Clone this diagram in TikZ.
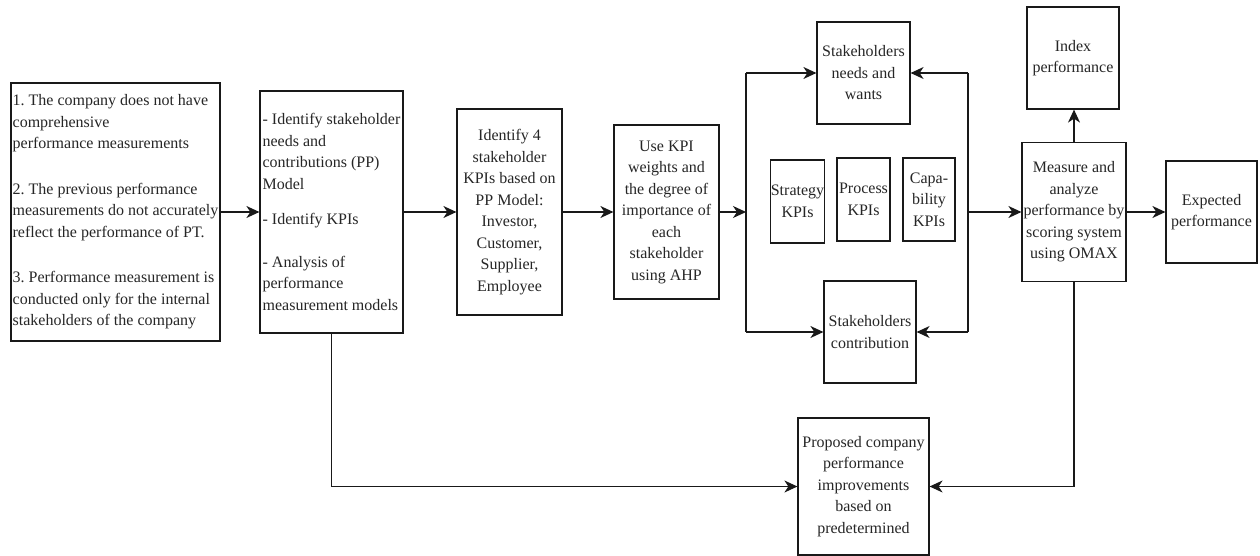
\documentclass[tikz,border=0pt]{standalone}
\usepackage{fontspec}
\setmainfont{Liberation Serif}
\usetikzlibrary{arrows.meta}
\begin{document}
\frenchspacing
\begin{tikzpicture}[x=1pt,y=-1pt,
  box/.style={draw=black!90, line width=1.2pt, inner sep=0pt, align=center,
    font=\fontsize{16pt}{21.5pt}\selectfont\frenchspacing, text=black!85},
  arr/.style={line width=1.2pt, draw=black!90, -{Stealth[length=13pt,width=12pt,inset=4pt]}},
  ln/.style={line width=1.2pt, draw=black!90}]
\useasboundingbox (0,0) rectangle (1260,556);
\fill[white] (0,0) rectangle (1260,556);

\node[box, minimum width=209pt, minimum height=258pt, align=left] (b1) at (115.5,212)
  {1. The company does not have\\ comprehensive\\ performance measurements\\[24pt]
   2. The previous performance\\ measurements do not accurately\\ reflect the performance of PT.\\[24pt]
   3. Performance measurement is\\ conducted only for the internal\\ stakeholders of the company};

\node[box, minimum width=143pt, minimum height=242pt, align=left] (b2) at (331.5,212)
  {- Identify stakeholder\\ needs and\\ contributions (PP)\\ Model\\[14pt]
   - Identify KPIs\\[21pt]
   - Analysis of\\ performance\\ measurement models};

\node[box, minimum width=105pt, minimum height=206pt] (b3) at (509.5,212)
  {Identify 4\\ stakeholder\\ KPIs based on\\ PP Model:\\ Investor,\\ Customer,\\ Supplier,\\ Employee};

\node[box, minimum width=105pt, minimum height=174pt] (b4) at (666.5,212)
  {Use KPI\\ weights and\\ the degree of\\ importance of\\ each\\ stakeholder\\ using AHP};

\node[box, minimum width=93pt, minimum height=102pt] (needs) at (863.5,73)
  {Stakeholders\\ needs and\\ wants};
\node[box, minimum width=53pt, minimum height=83pt] (strat) at (797.5,201.5)
  {Strategy\\ KPIs};
\node[box, minimum width=53pt, minimum height=83pt] (proc) at (863.5,199.5)
  {Process\\ KPIs};
\node[box, minimum width=52pt, minimum height=83pt] (cap) at (929,199.5)
  {Capa-\\ bility\\ KPIs};
\node[box, minimum width=92pt, minimum height=102pt] (contrib) at (870,332)
  {Stakeholders\\ contribution};

\node[box, minimum width=92pt, minimum height=102pt] (index) at (1073,58)
  {Index\\ performance};
\node[box, minimum width=104pt, minimum height=139pt] (meas) at (1074,212)
  {Measure and\\ analyze\\ performance by\\ scoring system\\ using OMAX};
\node[box, minimum width=91pt, minimum height=102pt] (exp) at (1211.5,212)
  {Expected\\ performance};
\node[box, minimum width=131pt, minimum height=137pt] (prop) at (863.5,486.5)
  {Proposed company\\ performance\\ improvements\\ based on\\ predetermined};

\coordinate (jl) at (746,212);
\coordinate (jlt) at (746,73);
\coordinate (jlb) at (746,332);
\coordinate (jr) at (968,212);
\coordinate (jrt) at (968,73);
\coordinate (jrb) at (968,332);

\draw[arr] (b1.east) -- (b2.west);
\draw[arr] (b2.east) -- (b3.west);
\draw[arr] (b3.east) -- (b4.west);
\draw[arr] (b4.east) -- (jl);
\draw[ln] (jlt) -- (jlb);
\draw[arr] (jlt) -- (needs.west);
\draw[arr] (jlb) -- (contrib.west);
\draw[ln] (jrt) -- (jrb);
\draw[arr] (jrt) -- (needs.east);
\draw[arr] (jrb) -- (contrib.east);
\draw[arr] (jr) -- (meas.west);
\draw[arr] (meas.north) -- (meas.north |- index.south);
\draw[arr] (meas.east) -- (exp.west);
\draw[arr] (meas.south) |- (prop.east);
\draw[arr] (b2.south) |- (prop.west);
\end{tikzpicture}
\end{document}
